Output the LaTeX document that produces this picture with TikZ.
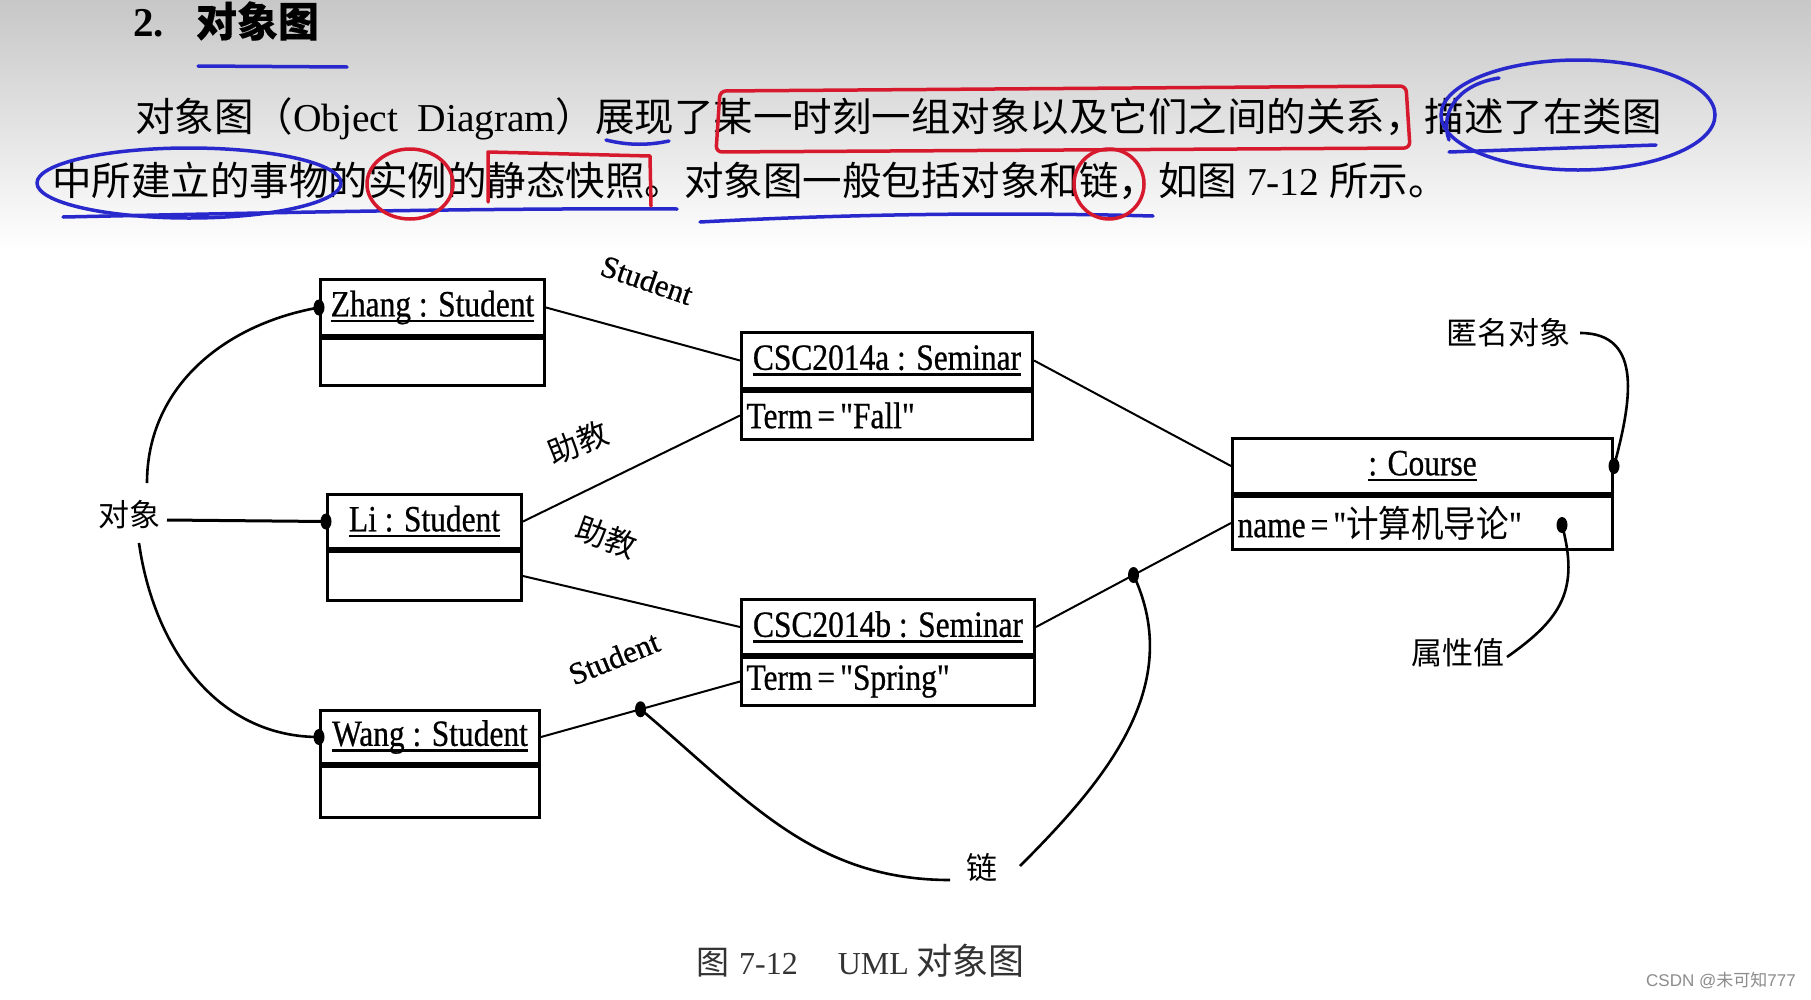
\documentclass[tikz,border=0pt]{standalone}
\usepackage{fontspec}
\setmainfont{Liberation Serif}
\newfontfamily\cjk{Noto Sans CJK SC}
\newfontfamily\cjkb[FakeBold=0.3]{Noto Sans CJK SC}
\newfontfamily\cjkn[FakeStretch=0.88]{Noto Sans CJK SC}
\newfontfamily\dfont[FakeStretch=0.85,FakeBold=0.6]{Liberation Serif}
\newfontfamily\lfont[FakeBold=0.8]{Liberation Serif}
\newfontfamily\wmfont{Liberation Sans}
\newsavebox\ulbox
\newcommand\uln[1]{\sbox\ulbox{#1}\rlap{\rule[-6pt]{\wd\ulbox}{2.6pt}}\usebox\ulbox}
\newcommand\eqs{\hspace{5pt}=\hspace{5pt}}
\definecolor{annblue}{RGB}{40,40,205}
\definecolor{annred}{RGB}{215,25,45}
\begin{document}
\begin{tikzpicture}[x=1pt,y=-1pt,
  objtop/.style={draw, line width=3pt, outer sep=1.5pt, anchor=north west, inner sep=0pt, font=\dfont\fontsize{37}{40}\selectfont},
  objbot/.style={draw, line width=3pt, outer sep=1.5pt, anchor=north west, inner xsep=5pt, inner ysep=0pt, align=left, font=\dfont\fontsize{37}{40}\selectfont},
  link/.style={line width=2pt},
  lead/.style={line width=2.6pt},
  lbl/.style={inner sep=0pt, font=\cjk\fontsize{31}{31}\selectfont},
  elbl/.style={inner sep=0pt, font=\lfont\fontsize{31}{31}\selectfont},
  ann/.style={line width=3.5pt, line cap=round, line join=round},
  txt/.style={anchor=west, inner sep=0pt},
]
\useasboundingbox (0,0) rectangle (1811,999);
\fill[white] (0,0) rectangle (1811,999);
\shade[top color=black!22, bottom color=white] (0,0) rectangle (1811,250);

% header text
\node[txt, font=\bfseries\fontsize{41}{41}\selectfont] (title) at (133,21) {2.\hspace{32pt}{\cjkb 对象图}};
\node[txt, font=\fontsize{39.5}{40}\selectfont] (p1) at (135,119)
  {{\cjk 对象图（}Object\hspace{19pt}Diagram{\cjk ）展现了某一时刻一组对象以及它们之间的关系，描述了在类图}};
\node[txt, font=\fontsize{39.5}{40}\selectfont] (p2) at (52,181)
  {{\cjk 中所建立的事物的实例的静态快照。对象图一般包括对象和链，如图} 7-12 {\cjk 所示。}};

% hand annotations
\draw[ann, annblue] (198,66) -- (347,67);
\draw[ann, annblue] (606,140) .. controls (630,146) and (650,145) .. (669,141);
\draw[ann, annred, rounded corners=6pt] (720,91) -- (1406,86) -- (1410,148) -- (716,152) -- cycle;
\draw[ann, annblue] (1578,115) ellipse [x radius=137pt, y radius=55pt];
\draw[ann, annblue] (1499,78) .. controls (1455,85) and (1440,115) .. (1449,140);
\draw[ann, annblue] (1449,152) -- (1656,145);
\draw[ann, annblue] (189,183) ellipse [x radius=152pt, y radius=35pt];
\draw[ann, annblue] (63,217) .. controls (300,212) and (500,208) .. (677,209);
\draw[ann, annred] (410,184) ellipse [x radius=43pt, y radius=35pt];
\draw[ann, annred] (488,202) -- (488,152) -- (650,156) -- (651,206);
\draw[ann, annblue] (700,222) .. controls (850,214) and (1000,212) .. (1153,216);
\draw[ann, annred] (1109,184) ellipse [x radius=35pt, y radius=35pt];

% objects
\node[objtop, minimum width=224pt, minimum height=56pt] (zhang) at (319,278) {\uln{Zhang : Student}};
\node[objbot, minimum width=224pt, minimum height=47pt] (zhangB) at (zhang.south west) {};
\node[objtop, minimum width=291pt, minimum height=56pt] (csca) at (740,331) {\uln{CSC2014a : Seminar}};
\node[objbot, minimum width=291pt, minimum height=48pt, text width=281pt] (cscaB) at (csca.south west) {Term\eqs"Fall"};
\node[objtop, minimum width=194pt, minimum height=54pt] (li) at (326,493) {\uln{Li : Student}};
\node[objbot, minimum width=194pt, minimum height=49pt] (liB) at (li.south west) {};
\node[objtop, minimum width=293pt, minimum height=55pt] (cscb) at (740,598) {\uln{CSC2014b : Seminar}};
\node[objbot, minimum width=293pt, minimum height=48pt, text width=283pt] (cscbB) at (cscb.south west) {Term\eqs"Spring"};
\node[objtop, minimum width=219pt, minimum height=53pt] (wang) at (319,709) {\uln{Wang : Student}};
\node[objbot, minimum width=219pt, minimum height=51pt] (wangB) at (wang.south west) {};
\node[objtop, minimum width=380pt, minimum height=55pt] (course) at (1231,437) {\uln{: Course}};
\node[objbot, minimum width=380pt, minimum height=53pt, text width=370pt] (courseB) at (course.south west) {name\eqs"{\cjkn 计算机导论}"};

% links
\draw[link] (zhang.east) -- (csca.west);
\draw[link] (li.east) -- (cscaB.west);
\draw[link] (liB.east) -- (cscb.west);
\draw[link] (wang.east) -- coordinate[pos=0.5] (ldotA) (cscbB.west);
\draw[link] (csca.east) -- (course.west);
\draw[link] (cscb.east) -- coordinate[pos=0.5] (ldotB) (courseB.west);

% link labels
\node[elbl, rotate=-19] (stu1) at (647,280) {Student};
\node[lbl, rotate=22] (ta1) at (578,443) {助教};
\node[lbl, rotate=-20] (ta2) at (607,537) {助教};
\node[elbl, rotate=22] (stu2) at (614,658) {Student};

% callouts
\node[lbl] (obj) at (129,515) {对象};
\node[lbl] (chain) at (982,868) {链};
\node[lbl] (anon) at (1508,333) {匿名对象};
\node[lbl] (attr) at (1458,653) {属性值};
\coordinate (oA) at (147,483);
\coordinate (oB) at (167,520);
\coordinate (oC) at (139,543);
\coordinate (cL) at (950,880);
\coordinate (cR) at (1020,866);
\coordinate (anS) at (1580,333);
\coordinate (atS) at (1507,657);
\coordinate (attdot) at (1562,525);

\draw[lead] (oA) to[out=90,in=190] (zhang.west);
\draw[lead, line width=3pt] (oB) -- (li.west);
\draw[lead] (oC) to[out=-82,in=180] (wang.west);
\draw[lead] (cL) to[out=180,in=-40] (ldotA);
\draw[lead] (cR) to[out=45,in=-65] (ldotB);
\draw[lead] (anS) to[out=0,in=75,looseness=1.2] (course.east);
\draw[lead] (atS) to[out=35,in=-75,looseness=1.2] (attdot);

\foreach \p in {zhang.west, li.west, wang.west, ldotA, ldotB, course.east, attdot}
  \fill (\p) ellipse [x radius=5.5pt, y radius=8pt];

% caption and watermark
\node[txt, text=black!80, font=\fontsize{32}{32}\selectfont] (cap) at (696,961)
  {{\cjk\fontsize{33}{33}\selectfont 图}\hspace{10pt}7-12\hspace{40pt}UML {\cjk\fontsize{36}{36}\selectfont 对象图}};
\node[txt, text=black!45, font=\wmfont\fontsize{17}{17}\selectfont] (wm) at (1646,981) {CSDN @{\cjk 未可知}777};
\end{tikzpicture}
\end{document}
